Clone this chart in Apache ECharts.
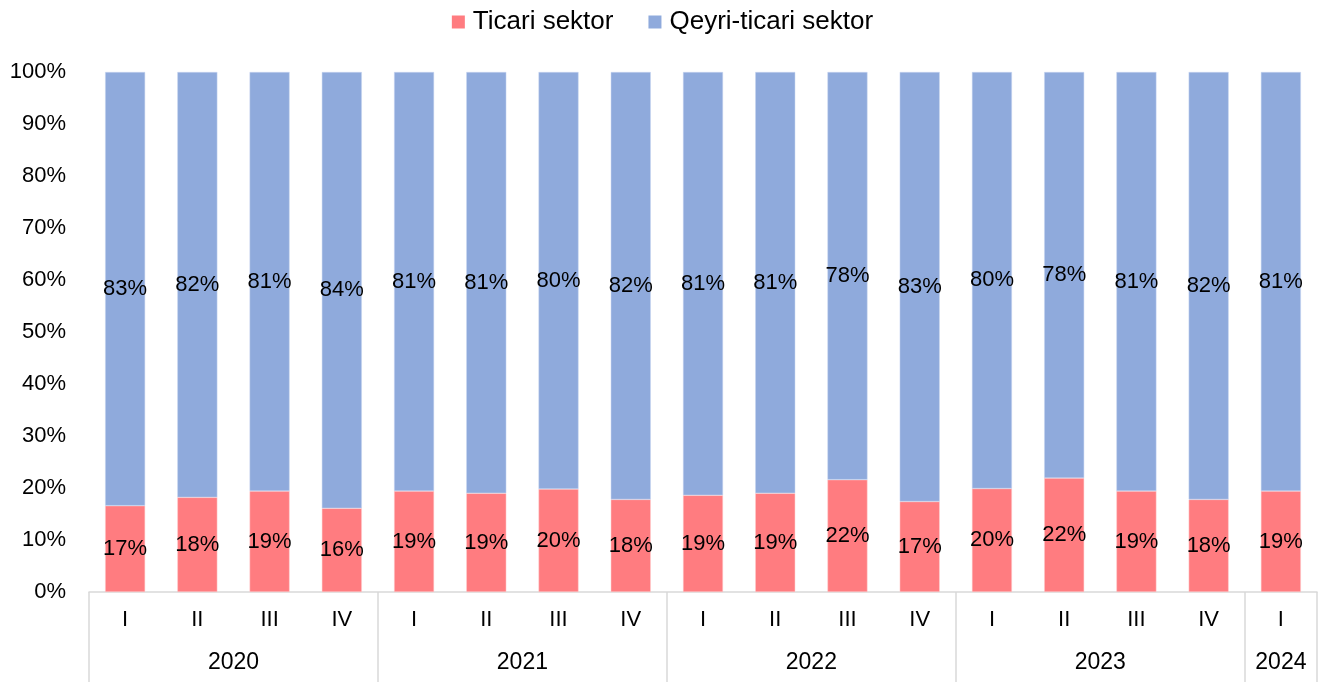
<!DOCTYPE html>
<html>
<head>
<meta charset="utf-8">
<title>Ticari / Qeyri-ticari sektor</title>
<script src="https://cdn.jsdelivr.net/npm/echarts@6/dist/echarts.min.js"></script>
<style>
  html, body { margin: 0; padding: 0; background: #fff; }
  #main { width: 1325px; height: 682px; }
</style>
</head>
<body>
<div id="main"></div>
<script>
// rüblər və illər
const quarters = ['I', 'II', 'III', 'IV', 'I', 'II', 'III', 'IV', 'I', 'II', 'III', 'IV', 'I', 'II', 'III', 'IV', 'I'];
const years = ['2020', '2021', '2022', '2023', '2024'];
const yearQuarterCount = [4, 4, 4, 4, 1];

// payla, %
const ticari = [16.6, 18.2, 19.4, 16.1, 19.4, 19.0, 19.8, 17.8, 18.6, 19.0, 21.6, 17.4, 19.9, 21.9, 19.4, 17.8, 19.4];
const qeyri = [83.4, 81.8, 80.6, 83.9, 80.6, 81.0, 80.2, 82.2, 81.4, 81.0, 78.4, 82.6, 80.1, 78.1, 80.6, 82.2, 80.6];

// ikinci ox üçün yarım-rüb addımlı nöqtələr (illərin adları ortada, sərhədlərdə xətt)
const halfSteps = quarters.length * 2 + 1;
const yearAxisData = new Array(halfSteps).fill('');
const yearBorders = [0];
let pos = 0;
years.forEach((y, i) => {
  const n = yearQuarterCount[i] * 2;
  yearAxisData[pos + n / 2] = y;
  pos += n;
  yearBorders.push(pos);
});

const FONT = '"Liberation Sans", Arial, sans-serif';
const chart = echarts.init(document.getElementById('main'));

const labelFmt = p => Math.round(p.value) + '%';

chart.setOption({
  animation: false,
  textStyle: { fontFamily: FONT },
  legend: {
    top: 4,
    left: 'center',
    icon: 'rect',
    itemWidth: 13,
    itemHeight: 13,
    itemGap: 35,
    itemStyle: { borderWidth: 0 },
    textStyle: { fontSize: 26, color: '#000', fontFamily: FONT, padding: [0, 0, 0, 3] },
    data: ['Ticari sektor', 'Qeyri-ticari sektor']
  },
  grid: { left: 89, right: 8, top: 72, bottom: 90, containLabel: false },
  xAxis: [
    {
      type: 'category',
      position: 'bottom',
      data: quarters,
      axisLine: { lineStyle: { color: '#d9d9d9', width: 1.5 } },
      axisTick: { show: false },
      axisLabel: { interval: 0, margin: 17, fontSize: 22, color: '#000', fontFamily: FONT }
    },
    {
      type: 'category',
      position: 'bottom',
      boundaryGap: false,
      data: yearAxisData,
      axisLine: { show: false },
      axisTick: {
        show: true,
        inside: false,
        length: 92,
        interval: (idx) => yearBorders.indexOf(idx) !== -1,
        lineStyle: { color: '#d9d9d9', width: 1.5 }
      },
      axisLabel: {
        interval: (idx, val) => val !== '',
        margin: 59,
        fontSize: 23,
        color: '#000',
        fontFamily: FONT
      }
    }
  ],
  yAxis: {
    type: 'value',
    min: 0,
    max: 100,
    interval: 10,
    axisLine: { show: false },
    axisTick: { show: false },
    splitLine: { show: false },
    axisLabel: { formatter: '{value}%', fontSize: 22, color: '#000', margin: 23, fontFamily: FONT }
  },
  series: [
    {
      name: 'Ticari sektor',
      type: 'bar',
      stack: 'total',
      xAxisIndex: 0,
      barWidth: 40,
      data: ticari,
      itemStyle: { color: '#FF7C80', borderColor: '#ffd0d0', borderWidth: 0.5 },
      label: { show: true, position: 'inside', formatter: labelFmt, color: '#000', fontSize: 22, fontFamily: FONT }
    },
    {
      name: 'Qeyri-ticari sektor',
      type: 'bar',
      stack: 'total',
      xAxisIndex: 0,
      barWidth: 40,
      data: qeyri,
      itemStyle: { color: '#8FAADC', borderColor: '#c8d6f0', borderWidth: 0.5 },
      label: { show: true, position: 'inside', formatter: labelFmt, color: '#000', fontSize: 22, fontFamily: FONT }
    }
  ]
});
</script>
</body>
</html>
